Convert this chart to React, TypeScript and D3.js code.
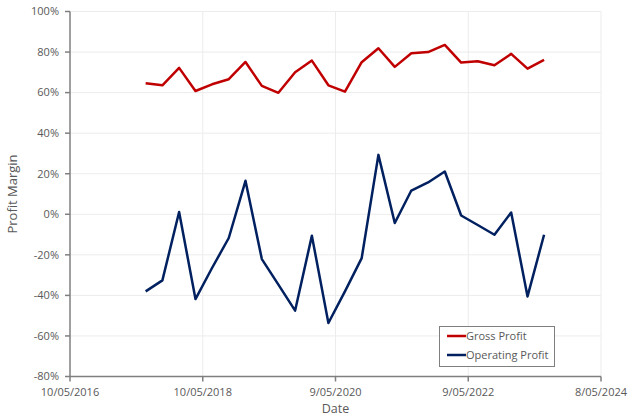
import React from "react";
import * as d3 from "d3";

const dates = [
  "2017-06-30", "2017-09-30", "2017-12-31", "2018-03-31", "2018-06-30",
  "2018-09-30", "2018-12-31", "2019-03-31", "2019-06-30", "2019-09-30",
  "2019-12-31", "2020-03-31", "2020-06-30", "2020-09-30", "2020-12-31",
  "2021-03-31", "2021-06-30", "2021-09-30", "2021-12-31", "2022-03-31",
  "2022-06-30", "2022-09-30", "2022-12-31", "2023-03-31", "2023-06-30",
];
const grossProfit = [
  64.6, 63.6, 72.2, 60.8, 64.1, 66.6, 75.1, 63.3, 59.9, 70.0,
  75.8, 63.6, 60.5, 75.0, 81.9, 72.7, 79.4, 80.0, 83.5, 74.8,
  75.5, 73.5, 79.1, 71.8, 76.1,
];
const operatingProfit = [
  -38.0, -32.6, 1.1, -41.8, -26.5, -11.7, 16.5, -22.1, -34.7, -47.5,
  -10.6, -53.6, -38.0, -21.6, 29.3, -4.3, 11.7, 15.7, 21.1, -0.6,
  -5.3, -10.1, 0.9, -40.5, -10.1,
];
const xTickDates = ["2016-05-10", "2018-05-10", "2020-05-09", "2022-05-09", "2024-05-08"];
const xTickLabels = ["10/05/2016", "10/05/2018", "9/05/2020", "9/05/2022", "8/05/2024"];
const yTicks = [-80, -60, -40, -20, 0, 20, 40, 60, 80, 100];
const seriesNames = ["Gross Profit", "Operating Profit"];
const seriesColors = ["#C00000", "#002060"];

const FONT = "'Open Sans', sans-serif";

export default function App() {
  const parse = (s: string) => new Date(s + "T00:00:00Z");
  const x = d3
    .scaleUtc()
    .domain([parse(xTickDates[0]), parse(xTickDates[xTickDates.length - 1])])
    .range([70, 601]);
  const y = d3.scaleLinear().domain([-80, 100]).range([376.5, 11.5]);

  const line = d3
    .line<[Date, number]>()
    .x((d) => x(d[0]))
    .y((d) => y(d[1]));

  const series = [grossProfit, operatingProfit].map((vals) =>
    vals.map((v, i) => [parse(dates[i]), v] as [Date, number])
  );

  const [x0, x1] = x.range();
  const [y0, y1] = y.range();

  return (
    <svg
      width={640}
      height={418}
      style={{ position: "absolute", left: 0, top: 0, background: "#fff" }}
    >
      <rect x={0} y={0} width={640} height={418} fill="#fff" />
      {yTicks.filter((t) => t !== -80).map((t) => (
        <line key={"hg" + t} x1={x0} x2={x1} y1={y(t)} y2={y(t)} stroke="#ececec" strokeWidth={1} />
      ))}
      {xTickDates.slice(1).map((d) => (
        <line key={"vg" + d} x1={x(parse(d))} x2={x(parse(d))} y1={y1} y2={y0} stroke="#ececec" strokeWidth={1} />
      ))}
      {series.map((s, i) => (
        <path
          key={"s" + i}
          d={line(s) || ""}
          fill="none"
          stroke={seriesColors[i]}
          strokeWidth={2.5}
          strokeLinejoin="round"
        />
      ))}
      <line x1={x0} x2={x0} y1={y1} y2={y0} stroke="#7f7f7f" strokeWidth={1.5} />
      <line x1={x0} x2={x1} y1={y0} y2={y0} stroke="#7f7f7f" strokeWidth={1.5} />
      {yTicks.map((t) => (
        <g key={"yt" + t}>
          <line x1={x0 - 5} x2={x0} y1={y(t)} y2={y(t)} stroke="#7f7f7f" strokeWidth={1.5} />
          <text
            x={x0 - 11}
            y={y(t)}
            dy="0.35em"
            textAnchor="end"
            fontFamily={FONT}
            fontSize={11}
            fill="#595959"
          >
            {t + "%"}
          </text>
        </g>
      ))}
      {xTickDates.map((d, i) => (
        <g key={"xt" + d}>
          <line x1={x(parse(d))} x2={x(parse(d))} y1={y0} y2={y0 + 5} stroke="#7f7f7f" strokeWidth={1.5} />
          <text
            x={x(parse(d))}
            y={y0 + 16}
            dy="0.35em"
            textAnchor="middle"
            fontFamily={FONT}
            fontSize={11}
            fill="#595959"
          >
            {xTickLabels[i]}
          </text>
        </g>
      ))}
      <text
        x={(x0 + x1) / 2}
        y={409}
        dy="0.35em"
        textAnchor="middle"
        fontFamily={FONT}
        fontSize={12.5}
        fill="#595959"
      >
        Date
      </text>
      <text
        transform={`translate(12, ${(y0 + y1) / 2}) rotate(-90)`}
        dy="0.35em"
        textAnchor="middle"
        fontFamily={FONT}
        fontSize={13}
        fill="#595959"
      >
        Profit Margin
      </text>
      <rect x={439.5} y={326.5} width={115} height={40} fill="#fff" stroke="#7f7f7f" strokeWidth={1} />
      {seriesNames.map((n, i) => (
        <g key={"lg" + i}>
          <line x1={447} x2={466} y1={336 + i * 19} y2={336 + i * 19} stroke={seriesColors[i]} strokeWidth={2.5} />
          <text
            x={466}
            y={336 + i * 19}
            dy="0.35em"
            fontFamily={FONT}
            fontSize={11}
            fill="#595959"
          >
            {n}
          </text>
        </g>
      ))}
    </svg>
  );
}
